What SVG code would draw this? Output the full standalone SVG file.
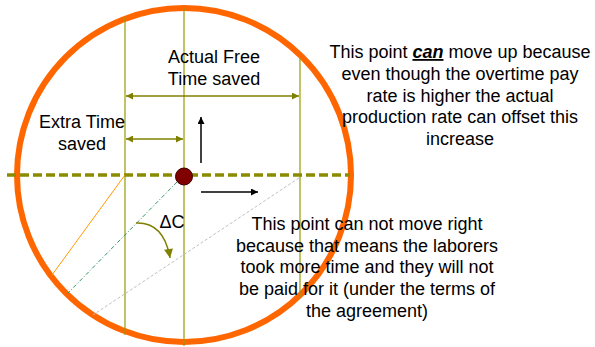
<svg xmlns="http://www.w3.org/2000/svg" width="595" height="347" viewBox="0 0 595 347">
<style>
text{font-family:"Liberation Sans",Arial,sans-serif;font-size:18px;fill:#000;text-anchor:middle}
.v{stroke:#999900;stroke-width:1.2;fill:none}
.dim{stroke:#808000;stroke-width:1.5;fill:none}
</style>
<defs>
<marker id="oa" viewBox="0 0 10 10" refX="10" refY="5" markerWidth="8" markerHeight="7" markerUnits="userSpaceOnUse" orient="auto-start-reverse">
<path d="M0,0L10,5L0,10z" fill="#808000"/>
</marker>
<marker id="ob" viewBox="0 0 10 10" refX="10" refY="5" markerWidth="10" markerHeight="9" markerUnits="userSpaceOnUse" orient="auto">
<path d="M0,0L10,5L0,10z" fill="#808000"/>
</marker>
<marker id="ka" viewBox="0 0 10 10" refX="10" refY="5" markerWidth="7" markerHeight="7" markerUnits="userSpaceOnUse" orient="auto">
<path d="M0,0L10,5L0,10z" fill="#000"/>
</marker>
</defs>
<g id="circle"><circle cx="184" cy="175" r="167" fill="none" stroke="#FF6600" stroke-width="6"/></g>
<g id="connectors">
<line class="v" x1="125" y1="17" x2="125" y2="335"/>
<line class="v" x1="184" y1="8" x2="184" y2="346"/>
<line class="v" x1="300" y1="58" x2="300" y2="297"/>
<line x1="7" y1="175" x2="350" y2="175" stroke="#8B8B00" stroke-width="3.5" stroke-dasharray="9,4"/>
<line x1="125" y1="175" x2="52" y2="275" stroke="#FF9900" stroke-width="1"/>
<line x1="177" y1="182" x2="68" y2="293" stroke="#339966" stroke-width="1" stroke-dasharray="4,2,1,2"/>
<line x1="299" y1="178" x2="93" y2="315" stroke="#C0C0C0" stroke-width="1" stroke-dasharray="3,2"/>
<line class="dim" x1="126" y1="96" x2="299" y2="96" marker-start="url(#oa)" marker-end="url(#oa)"/>
<line class="dim" x1="126" y1="139" x2="183" y2="139" marker-start="url(#oa)" marker-end="url(#oa)"/>
<line x1="201" y1="163" x2="201" y2="117" stroke="#000" stroke-width="1.5" marker-end="url(#ka)"/>
<line x1="201" y1="192" x2="258" y2="192" stroke="#000" stroke-width="1.5" marker-end="url(#ka)"/>
<path d="M136,223 Q164,222 170,258" stroke="#808000" stroke-width="1.5" fill="none" marker-end="url(#ob)"/>
</g>
<g id="point"><circle cx="184" cy="176.5" r="8.5" fill="#800000" stroke="#400000" stroke-width="1"/></g>
<g id="labels">
<text x="214" y="63">Actual Free</text>
<text x="214" y="85">Time saved</text>
<text x="82" y="128">Extra Time</text>
<text x="82" y="150">saved</text>
<text x="172" y="228">ΔC</text>
<text x="460" y="58">This point <tspan font-weight="bold" font-style="italic" text-decoration="underline">can</tspan> move up because</text>
<text x="460" y="80">even though the overtime pay</text>
<text x="460" y="102">rate is higher the actual</text>
<text x="460" y="123">production rate can offset this</text>
<text x="460" y="145">increase</text>
<text x="367" y="230">This point can not move right</text>
<text x="367" y="252">because that means the laborers</text>
<text x="367" y="273">took more time and they will not</text>
<text x="367" y="295">be paid for it (under the terms of</text>
<text x="367" y="317">the agreement)</text>
</g>
</svg>
